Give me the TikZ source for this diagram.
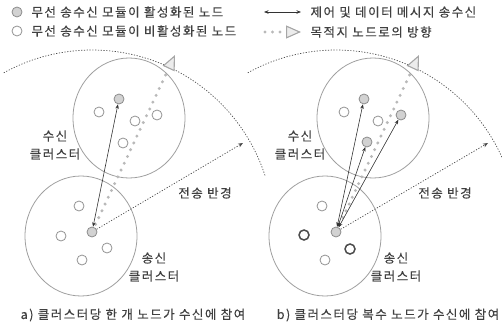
\documentclass[tikz,border=0pt]{standalone}
\usepackage{fontspec}
\setmainfont{Noto Sans CJK KR}[LetterSpace=12, FakeBold=0.4]
\usetikzlibrary{arrows.meta}
\begin{document}
\begin{tikzpicture}[x=1pt,y=-1pt,
  every node/.style={font=\fontsize{12.5}{18}\selectfont, text=black!75},
  cnode/.style={circle, draw=gray!85, line width=0.8pt, minimum size=10pt, inner sep=0pt, fill=white},
  act/.style={cnode, fill=gray!35, draw=gray!90},
  darknode/.style={cnode, draw=black!70, line width=1.5pt},
  cluster/.style={draw=gray!75, line width=0.8pt},
  rangeline/.style={draw=black!70, line width=0.7pt, dash pattern=on 1.2pt off 1.6pt},
  rangearrow/.style={rangeline, -{Stealth[length=5pt,width=4pt]}},
  msg/.style={draw=black!80, line width=0.6pt, {Stealth[length=4.5pt,width=3.5pt]}-{Stealth[length=4.5pt,width=3.5pt]}},
  dirline/.style={draw=gray!55, line width=3.3pt, line cap=round, dash pattern=on 0pt off 7.5pt,
    -{Triangle[length=15pt,width=13pt,line width=1.1pt,fill=gray!15,color=gray!70]}}
]
\useasboundingbox (0,0) rectangle (502,326);

% ---------- legend ----------
\node[act] (l1) at (17,12) {};
\node[cnode] (l2) at (17,31) {};
\node[anchor=west] (t1) at (28,12) {무선 송수신 모듈이 활성화된 노드};
\node[anchor=west] (t2) at (28,31) {무선 송수신 모듈이 비활성화된 노드};
\coordinate (m1) at (264,12);
\coordinate (m2) at (301,12);
\draw[msg] (m1) -- (m2);
\node[anchor=west] (t3) at (307,12) {제어 및 데이터 메시지 송수신};
\coordinate (d1) at (265,32);
\coordinate (d2) at (301,32);
\draw[dirline] (d1) -- (d2);
\node[anchor=west] (t4) at (307,32) {목적지 노드로의 방향};

% ---------- panel a ----------
\draw[cluster] (129,118) ellipse[x radius=56, y radius=60];
\draw[cluster] (81,236) ellipse[x radius=56, y radius=60];

\node[act] (sa) at (92,232) {};
\node[cnode] (sa1) at (79,206) {};
\node[cnode] (sa2) at (61,236) {};
\node[cnode] (sa3) at (107,248) {};
\node[cnode] (sa4) at (82,260) {};
\node[act] (ra) at (119,99) {};
\node[cnode] (ra1) at (99,112) {};
\node[cnode] (ra2) at (135,121) {};
\node[cnode] (ra3) at (157,115) {};
\node[cnode] (ra4) at (123,143) {};

\begin{scope}
\clip (0,0) rectangle (502,326);
\draw[rangeline] (sa.center) ++(-119:182) arc[start angle=-119, end angle=-18, radius=182];
\draw[rangeline] (336,232) ++(-119:182) arc[start angle=-119, end angle=-5, radius=182];
\end{scope}

\coordinate (ta) at (175,55);
\draw[dirline, shorten <=3pt] (sa) -- (ta);
\draw[msg] (sa) -- (ra);
\coordinate (ea) at (243,143);
\draw[rangearrow] (sa) -- (ea);

\node[align=center] (la1) at (55,145) {수신\\클러스터};
\node[align=center] (la2) at (154,267) {송신\\클러스터};
\node (la3) at (205,193) {전송 반경};
\node (ca) at (133,315) {a) 클러스터당 한 개 노드가 수신에 참여};

% ---------- panel b ----------
\draw[cluster] (373,118) ellipse[x radius=56, y radius=60];
\draw[cluster] (325,236) ellipse[x radius=56, y radius=60];

\node[act] (sb) at (336,232) {};
\node[cnode] (sb1) at (322,206) {};
\node[darknode] (sb2) at (304,235) {};
\node[darknode] (sb3) at (350,249) {};
\node[cnode] (sb4) at (325,260) {};
\node[act] (rb) at (364,99) {};
\node[cnode] (rb1) at (344,112) {};
\node[cnode] (rb2) at (378,121) {};
\node[act] (rb3) at (401,115) {};
\node[act] (rb4) at (367,142) {};

\coordinate (tb) at (419,55);
\draw[dirline, shorten <=3pt] (sb) -- (tb);
\draw[msg] (sb) -- (rb);
\draw[msg] (sb) -- (rb4);
\draw[msg] (sb) -- (rb3);
\coordinate (eb) at (488,143);
\draw[rangearrow] (sb) -- (eb);

\node[align=center] (lb1) at (300,145) {수신\\클러스터};
\node[align=center] (lb2) at (396,267) {송신\\클러스터};
\node (lb3) at (445,193) {전송 반경};
\node (cb) at (388,315) {b) 클러스터당 복수 노드가 수신에 참여};
\end{tikzpicture}
\end{document}
